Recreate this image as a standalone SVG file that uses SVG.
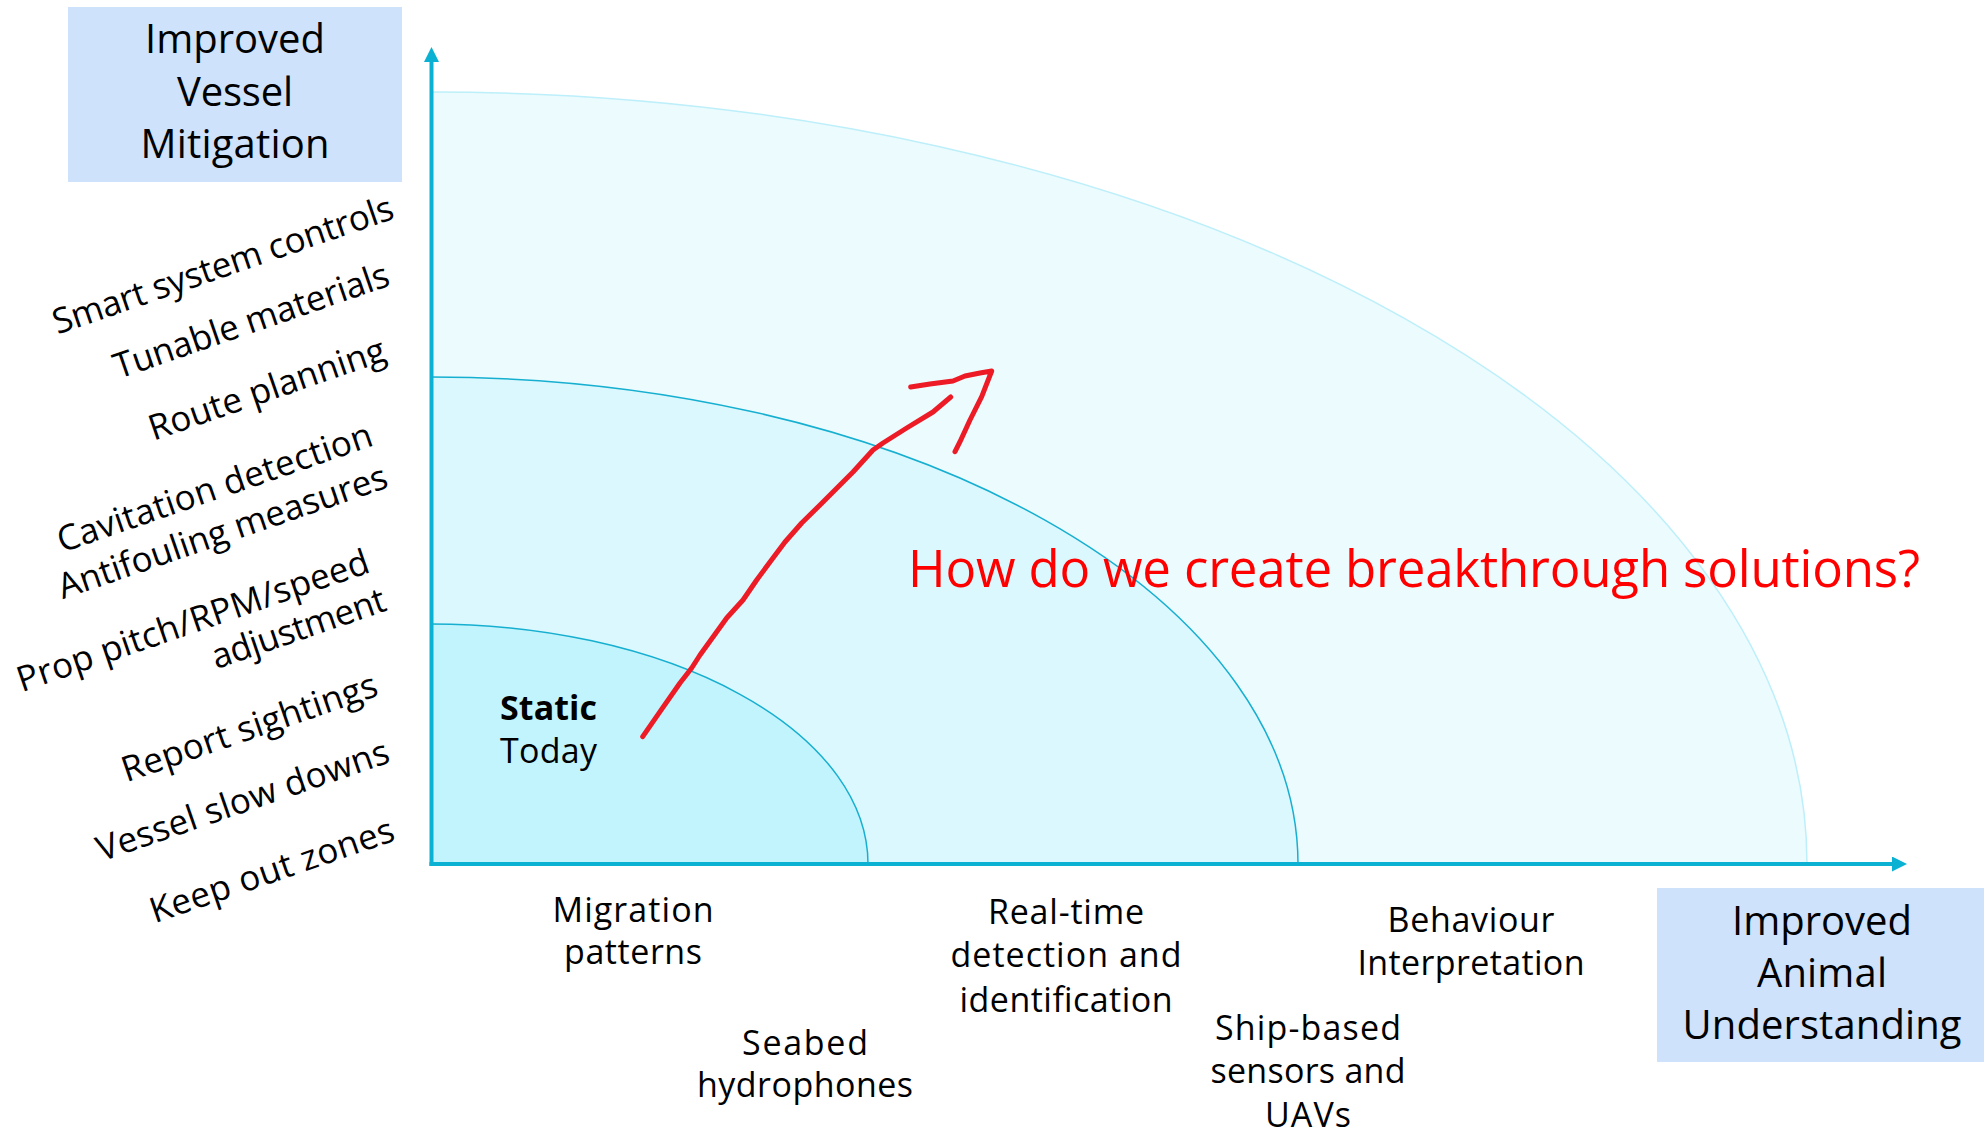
<svg xmlns="http://www.w3.org/2000/svg" width="1984" height="1135" viewBox="0 0 1984 1135">
  <style>
    .lbl { font-family: "Open Sans", "Liberation Sans", sans-serif; font-size: 34px; fill: #000; }
    .tilt { font-size: 35px; }
    .box-text { font-family: "Open Sans", "Liberation Sans", sans-serif; font-size: 40px; fill: #000; text-anchor: middle; }
    .mid { text-anchor: middle; }
    .end { text-anchor: end; }
    .box { fill: #cfe2fb; }
    .arc { fill: none; stroke: #17afd0; stroke-width: 1.5; }
    .arc-outer { fill: none; stroke: #bdeffa; stroke-width: 1.5; }
    .axis { stroke: #0ab1d3; stroke-width: 4; fill: none; }
    .pen { fill: none; stroke: #ec1b26; stroke-width: 5; stroke-linecap: round; stroke-linejoin: round; }
    .question { font-family: "Open Sans", "Liberation Sans", sans-serif; font-size: 51px; fill: #ff0000; }
  </style>
  <defs>
    <marker id="axisHead" markerUnits="userSpaceOnUse" markerWidth="15" markerHeight="15" viewBox="0 0 15 15" refX="0" refY="7.5" orient="auto">
      <path d="M0,0 L15,7.5 L0,15 Z" fill="#0ab1d3"/>
    </marker>
  </defs>

  <rect width="1984" height="1135" fill="#ffffff"/>

  <!-- maturity bands, largest first -->
  <g id="band-breakthrough">
    <path d="M431 864 L431 92 A1376 772 0 0 1 1807 864 Z" fill="#ebfbfe"/>
    <path class="arc-outer" d="M431 92 A1376 772 0 0 1 1807 864"/>
  </g>
  <g id="band-dynamic">
    <path d="M431 864 L431 377 A867 487 0 0 1 1298 864 Z" fill="#daf8fe"/>
    <path class="arc" d="M431 377 A867 487 0 0 1 1298 864"/>
  </g>
  <g id="band-static">
    <path d="M431 864 L431 624 A437 240 0 0 1 868 864 Z" fill="#c1f4fd"/>
    <path class="arc" d="M431 624 A437 240 0 0 1 868 864"/>
    <text class="lbl" x="500" y="720" font-weight="bold" font-size="35" textLength="97">Static</text>
    <text class="lbl" x="500" y="763" font-size="35" textLength="97">Today</text>
  </g>

  <!-- axis titles -->
  <g id="title-vessel">
    <rect class="box" x="68" y="7" width="334" height="175"/>
    <text class="box-text" x="235" y="53" textLength="180">Improved</text>
    <text class="box-text" x="235" y="106" textLength="116">Vessel</text>
    <text class="box-text" x="235" y="158" textLength="189">Mitigation</text>
  </g>
  <g id="title-animal">
    <rect class="box" x="1657" y="888" width="327" height="174"/>
    <text class="box-text" x="1822" y="935" textLength="180">Improved</text>
    <text class="box-text" x="1822" y="987" textLength="130">Animal</text>
    <text class="box-text" x="1822" y="1039" textLength="279">Understanding</text>
  </g>

  <!-- mitigation measures along the vertical axis -->
  <g id="vessel-measures" class="lbl tilt">
    <text class="end" transform="translate(396 218) rotate(-19)" textLength="358">Smart system controls</text>
    <text class="end" transform="translate(391.7 285) rotate(-19)" textLength="289">Tunable materials</text>
    <text class="end" transform="translate(388 360) rotate(-19)" textLength="248">Route planning</text>
    <text class="end" transform="translate(375 445) rotate(-19)" textLength="331">Cavitation detection</text>
    <text class="end" transform="translate(390 486.7) rotate(-19)" textLength="346">Antifouling measures</text>
    <text class="end" transform="translate(371.7 571.7) rotate(-19)" textLength="370">Prop pitch/RPM/speed</text>
    <text class="end" transform="translate(388.3 610) rotate(-19)" textLength="182">adjustment</text>
    <text class="end" transform="translate(380 695) rotate(-19)" textLength="268">Report sightings</text>
    <text class="end" transform="translate(391.7 761.7) rotate(-19)" textLength="307">Vessel slow downs</text>
    <text class="end" transform="translate(396.7 840) rotate(-19)" textLength="256">Keep out zones</text>
  </g>

  <!-- understanding capabilities along the horizontal axis -->
  <g id="animal-capabilities" class="lbl">
    <text class="mid" x="633" y="922" textLength="161">Migration</text>
    <text class="mid" x="633" y="964" textLength="138">patterns</text>
    <text class="mid" x="805" y="1055" textLength="126">Seabed</text>
    <text class="mid" x="805" y="1097" textLength="216">hydrophones</text>
    <text class="mid" x="1066" y="924" textLength="156">Real-time</text>
    <text class="mid" x="1066" y="967" textLength="231">detection and</text>
    <text class="mid" x="1066" y="1012" textLength="213">identification</text>
    <text class="mid" x="1308" y="1040" textLength="186">Ship-based</text>
    <text class="mid" x="1308" y="1083" textLength="195">sensors and</text>
    <text class="mid" x="1308" y="1127" textLength="86">UAVs</text>
    <text class="mid" x="1471" y="932" textLength="167">Behaviour</text>
    <text class="mid" x="1471" y="975" textLength="227">Interpretation</text>
  </g>

  <g id="question">
    <text class="question" x="908" y="587" textLength="1012">How do we create breakthrough solutions?</text>
  </g>

  <!-- axes and the hand-drawn progression arrow -->
  <g id="connectors">
    <line class="axis" x1="431.5" y1="866" x2="431.5" y2="62" marker-end="url(#axisHead)"/>
    <line class="axis" x1="429.5" y1="864" x2="1892" y2="864" marker-end="url(#axisHead)"/>
    <path class="pen" d="M642.7 736.7 L660 711.7 L680 683 L691.7 668 L700 655 L713 637 L726.7 618 L743 600 L756.7 580 L770 562 L785 542 L801.7 523 L820 505 L833 492 L853 472 L873 450 L883 443 L906.7 428 L933 412 L950.7 397"/>
    <path class="pen" stroke-width="6.5" d="M910.7 387 L930 384 L953 381 L965 376 L980 373 L991.7 371 L981.7 396.7 L970 420 L960 441.7 L955 451.7"/>
  </g>
</svg>
